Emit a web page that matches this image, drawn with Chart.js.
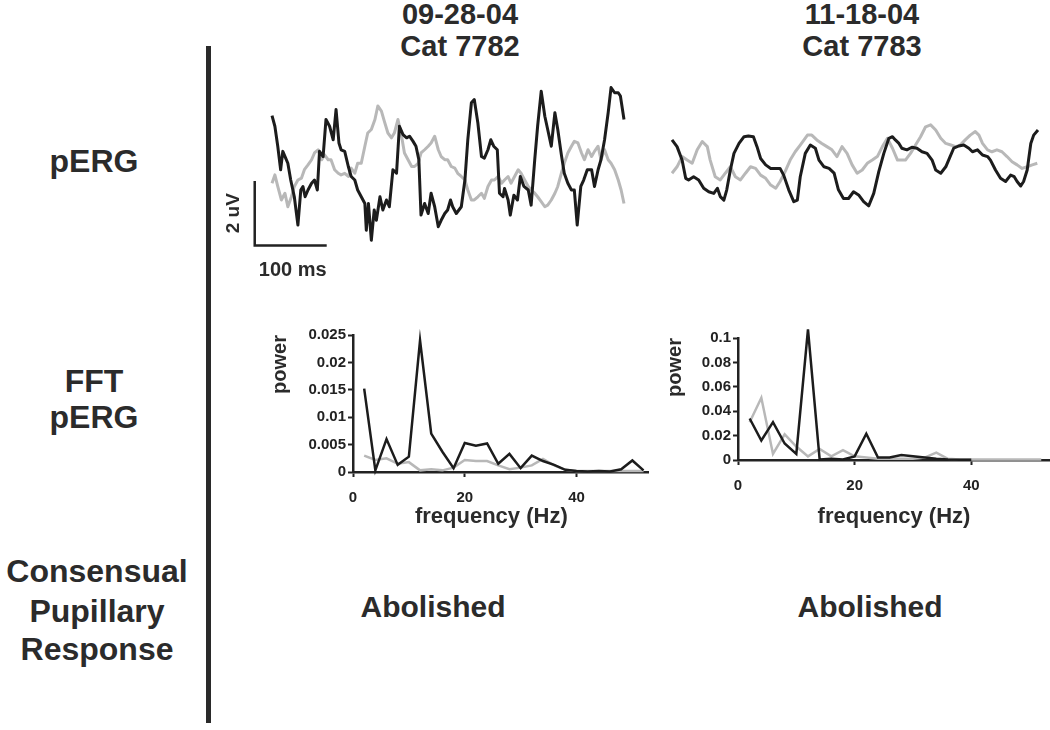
<!DOCTYPE html>
<html lang="en">
	<head>
		<meta charset="UTF-8" />
		<script src="https://cdn.jsdelivr.net/npm/chart.js@4.4.0/dist/chart.umd.min.js"></script>
		<style>
			body { margin: 0; background: #fff; width: 1050px; height: 730px; position: relative; overflow: hidden; }
			.txt { position: absolute; font-family: 'Liberation Sans', Arial, sans-serif; font-weight: bold; color: #2b2b2b; line-height: 1; white-space: nowrap; text-align: center; width: 300px; }
			canvas { position: absolute; }
			#divider { position: absolute; left: 206px; top: 46px; width: 5px; height: 677px; background: #2a2a2a; }
		</style>
	</head>

	<body>
		<div class="txt" style="font-size:29px; left:310px; top:0px;">09-28-04</div>
		<div class="txt" style="font-size:29px; left:310px; top:32px;">Cat 7782</div>
		<div class="txt" style="font-size:29px; left:712px; top:0px;">11-18-04</div>
		<div class="txt" style="font-size:29px; left:712px; top:32px;">Cat 7783</div>

		<div class="txt" style="font-size:32px; left:-56px; top:145px;">pERG</div>
		<div class="txt" style="font-size:32px; left:-56px; top:365px;">FFT</div>
		<div class="txt" style="font-size:32px; left:-56px; top:401px;">pERG</div>
		<div class="txt" style="font-size:32px; left:-53px; top:555px;">Consensual</div>
		<div class="txt" style="font-size:32px; left:-53px; top:595px;">Pupillary</div>
		<div class="txt" style="font-size:32px; left:-53px; top:633px;">Response</div>

		<div class="txt" style="font-size:30px; left:283px; top:592px;">Abolished</div>
		<div class="txt" style="font-size:30px; left:720px; top:592px;">Abolished</div>

		<div id="divider"></div>

		<canvas id="pergLeft" width="408" height="203" style="left:220px; top:82px;"></canvas>
		<canvas id="pergRight" width="374" height="104" style="left:668px; top:110px;"></canvas>
		<canvas id="fftLeft" width="386" height="206" style="left:268px; top:324px;"></canvas>
		<canvas id="fftRight" width="387" height="203" style="left:663px; top:327px;"></canvas>

		<script>
			// pERG traces, time in ms, amplitude in uV (offset baseline)
			const leftBlackTime = [0,4,8,12,15,19,22,26,31,36,40,43,46,50,55,59,63,66,71,75,80,85,89,93,96,101,106,110,115,119,124,129,131,134,138,142,145,150,154,159,163,168,173,177,182,187,191,196,200,204,207,212,217,221,226,231,235,240,244,248,251,256,263,268,272,277,281,286,291,295,300,304,308,313,316,321,323,328,331,336,341,345,350,356,360,365,369,374,379,383,388,393,397,402,406,411,416,420,424,429,433,438,444,448,453,457,462,467,471,476,481,484,489];
			const leftBlack = [4.08,3.75,3.13,2.40,2.97,2.76,2.60,2.08,1.56,0.68,1.77,1.88,1.56,1.77,1.98,2.08,1.77,2.97,2.81,3.96,3.75,3.33,4.27,3.23,3.02,2.97,2.50,2.19,2.08,1.77,1.56,1.35,0.52,1.35,0.21,1.15,0.83,1.56,1.15,1.46,1.25,2.40,2.29,3.75,3.49,3.39,3.44,3.28,3.13,2.71,0.99,1.35,1.04,1.67,1.25,0.63,0.83,1.04,1.15,1.46,1.25,1.04,1.25,2.08,3.33,4.48,4.58,3.85,2.81,2.76,3.02,3.33,3.13,3.02,1.67,1.56,1.82,1.46,0.99,1.61,1.46,2.19,1.88,1.77,1.30,2.71,3.75,4.84,4.06,3.65,3.13,4.17,3.65,2.86,2.29,1.98,1.77,1.77,0.68,1.88,2.08,2.40,2.40,1.88,2.40,2.71,3.33,4.17,4.95,4.79,4.79,4.69,3.96];
			const leftGrayTime = [0,4,8,13,18,22,27,31,36,41,45,50,55,59,64,69,73,78,82,87,92,96,101,106,110,115,119,124,129,133,138,143,147,152,156,161,166,170,175,180,184,189,194,198,203,207,212,217,221,226,231,235,240,244,249,254,258,263,268,272,277,281,286,291,295,300,305,309,314,319,323,328,332,337,342,346,351,356,360,365,369,374,379,383,388,393,397,402,406,411,416,420,425,430,434,439,444,448,453,457,462,467,471,476,481,485,489];
			const leftGray = [1.98,2.24,1.88,1.46,1.67,1.25,1.56,1.88,2.08,2.14,2.40,2.55,2.71,2.92,3.02,2.71,2.86,2.71,2.71,2.40,2.29,2.24,2.29,2.19,2.45,2.29,2.60,2.60,3.13,3.54,3.65,3.96,4.38,4.22,3.91,3.54,3.39,3.54,3.96,3.44,2.92,2.71,2.50,2.50,2.60,2.92,3.02,3.13,3.23,3.44,3.02,2.81,2.71,2.71,2.50,2.45,2.29,2.19,2.08,1.77,1.46,1.46,1.56,1.67,1.51,1.88,2.08,2.08,2.19,1.98,2.08,2.19,1.98,2.19,2.40,2.29,2.08,1.88,1.77,1.67,1.56,1.41,1.25,1.30,1.46,1.67,1.88,2.29,2.60,2.92,3.13,3.28,3.23,2.92,2.71,3.02,2.81,2.97,3.13,2.71,3.02,2.71,2.60,2.40,2.08,1.77,1.35];

			const rightBlackTime = [0,7,14,19,23,30,37,44,51,58,63,67,72,76,81,86,93,100,106,113,118,123,130,137,144,150,155,162,169,174,178,185,192,199,204,211,218,225,231,238,245,252,259,266,273,280,287,294,301,306,310,315,319,326,333,340,347,354,361,366,373,380,386,391,398,405,412,417,424,431,438,442,449,456,463,470,475,479,484,488,493,498,502,508];
			const rightBlack = [2.19,1.98,1.56,0.99,0.94,1.04,0.94,0.68,0.57,0.52,0.68,0.42,0.31,0.63,1.25,1.77,2.08,2.29,2.31,2.29,1.98,1.61,1.41,1.30,1.30,1.30,1.09,0.63,0.26,0.31,1.04,1.77,2.03,1.93,1.56,1.35,1.30,1.15,0.63,0.36,0.36,0.57,0.47,0.26,0.13,0.52,1.20,1.77,2.24,2.29,2.19,2.08,1.93,1.88,1.96,1.93,1.82,1.77,1.56,1.25,1.15,1.35,1.67,1.93,2.00,2.03,1.93,1.82,1.88,1.72,1.67,1.56,1.25,0.99,0.89,1.09,1.04,0.89,0.75,0.89,1.25,2.08,2.34,2.50];
			const rightGrayTime = [0,7,14,21,28,35,42,49,53,60,67,74,81,88,95,102,109,116,123,130,137,144,150,157,164,171,178,188,194,201,208,215,222,229,236,243,250,257,264,271,278,285,292,299,306,313,317,324,331,338,345,352,359,366,373,380,387,394,400,407,414,421,426,431,438,444,451,458,465,472,479,486,493,500,507];
			const rightGray = [1.15,1.35,1.67,1.56,1.46,1.88,2.14,1.98,1.56,1.04,0.94,1.15,1.35,1.04,0.94,1.15,1.35,1.30,1.09,0.99,0.78,0.68,0.89,1.20,1.56,1.82,2.03,2.34,2.34,2.19,2.08,1.98,1.88,1.67,1.98,1.77,1.41,1.15,1.25,1.46,1.56,1.67,1.98,2.24,1.93,1.56,1.56,1.56,1.77,2.03,2.29,2.60,2.66,2.50,2.24,2.08,2.03,1.98,2.03,2.19,2.34,2.45,2.34,2.08,1.88,1.82,1.88,1.82,1.67,1.51,1.41,1.30,1.35,1.41,1.46];

			// FFT of pERG, frequency in Hz
			const fftFreq = [2,4,6,8,10,12,14,16,18,20,22,24,26,28,30,32,34,36,38,40,42,44,46,48,50,52];
			const fftLeftBlack = [0.0152,0.0003,0.006,0.0013,0.0028,0.024,0.007,0.0037,0.0007,0.0053,0.0048,0.0052,0.0015,0.0033,0.0007,0.003,0.002,0.0013,0.0004,0.0002,0.0001,0.0002,0.0001,0.0005,0.0021,0.0003];
			const fftLeftGray = [0.003,0.0022,0.0025,0.0015,0.0018,0.0003,0.0005,0.0003,0.0008,0.0022,0.002,0.002,0.0012,0.0005,0.0008,0.0012,0.0024,0.0012,0.0004,0.0002,0.0002,0.0002,0.0002,0.0002,0.0002,0.0002];
			const fftRightBlack = [0.034,0.016,0.031,0.0135,0.005,0.107,0.0005,0.001,0.0005,0.003,0.0215,0.002,0.002,0.004,0.003,0.002,0.001,0.0005,0.0003,0.0003];
			const fftRightGray = [0.031,0.051,0.005,0.021,0.011,0.003,0.009,0.003,0.008,0.003,0.002,0.001,0.001,0.001,0.001,0.002,0.006,0.001,0.0005,0.0005,0.0005,0.0005,0.0005,0.0005,0.0005,0.0005];

			const scaleBarMs = 100;
			const scaleBarUv = 2;

			const BLACK = '#1c1c1c';
			const GRAY = '#b8b8b8';
			const FONT = "'Liberation Sans', Arial, sans-serif";

			function pts(xs, ys) {
				return ys.map((v, i) => ({ x: xs[i], y: v }));
			}

			function traceChart(id, black, gray, xMax, yMax, padding, plugins) {
				return new Chart(document.getElementById(id), {
					type: 'line',
					data: {
						datasets: [
							{ data: black, borderColor: BLACK, borderWidth: 3 },
							{ data: gray, borderColor: GRAY, borderWidth: 3 },
						],
					},
					options: {
						responsive: false,
						animation: false,
						devicePixelRatio: 1,
						layout: { padding },
						elements: { point: { radius: 0 }, line: { tension: 0, borderJoinStyle: 'round' } },
						datasets: { line: { clip: false } },
						plugins: { legend: { display: false }, tooltip: { enabled: false } },
						scales: {
							x: { type: 'linear', min: 0, max: xMax, display: false },
							y: { min: 0, max: yMax, display: false },
						},
					},
					plugins: plugins || [],
				});
			}

			// 2 uV / 100 ms scale bar drawn from the left trace's own scales
			const scaleBar = {
				id: 'scaleBar',
				afterDraw(chart) {
					const { ctx } = chart;
					const x = chart.scales.x, y = chart.scales.y;
					const x0 = x.getPixelForValue(-24), x1 = x.getPixelForValue(-24 + scaleBarMs);
					const yb = y.getPixelForValue(0.05), yt = y.getPixelForValue(0.05 + scaleBarUv);
					ctx.save();
					ctx.strokeStyle = '#222';
					ctx.lineWidth = 2.5;
					ctx.beginPath();
					ctx.moveTo(x0, yt);
					ctx.lineTo(x0, yb);
					ctx.lineTo(x1, yb);
					ctx.stroke();
					ctx.fillStyle = '#2b2b2b';
					ctx.font = 'bold 20px ' + FONT;
					ctx.textAlign = 'center';
					ctx.textBaseline = 'middle';
					ctx.fillText(scaleBarMs + ' ms', (x0 + x1) / 2 + 2, yb + 25);
					ctx.translate(x0 - 21, (yb + yt) / 2);
					ctx.rotate(-Math.PI / 2);
					ctx.font = 'bold 19px ' + FONT;
					ctx.fillText(scaleBarUv + ' uV', 0, 0);
					ctx.restore();
				},
			};

			traceChart('pergLeft', pts(leftBlackTime, leftBlack), pts(leftGrayTime, leftGray), 489, 5,
				{ left: 52, right: 4, top: 4, bottom: 38 }, [scaleBar]);
			traceChart('pergRight', pts(rightBlackTime, rightBlack), pts(rightGrayTime, rightGray), 508, 3,
				{ left: 4, right: 4, top: 4, bottom: 4 });

			function fftChart(id, black, gray, xMax, yMax, yStep, yWidth, xHeight, padding, xTitle) {
				const axisColor = '#222';
				const tickFont = { family: FONT, size: 15, weight: 'bold' };
				return new Chart(document.getElementById(id), {
					type: 'line',
					data: {
						datasets: [
							{ data: pts(fftFreq, black), borderColor: BLACK, borderWidth: 2.5 },
							{ data: pts(fftFreq, gray), borderColor: GRAY, borderWidth: 2.5 },
						],
					},
					options: {
						responsive: false,
						animation: false,
						devicePixelRatio: 1,
						layout: { padding },
						elements: { point: { radius: 0 }, line: { tension: 0 } },
						datasets: { line: { clip: false } },
						plugins: { legend: { display: false }, tooltip: { enabled: false } },
						scales: {
							x: {
								type: 'linear',
								min: 0,
								max: xMax,
								afterFit: (s) => { s.height = xHeight; },
								ticks: { stepSize: 20, includeBounds: false, font: tickFont, color: '#222', padding: 12, maxRotation: 0 },
								grid: { drawOnChartArea: false, drawTicks: true, tickLength: 5, tickColor: axisColor, tickWidth: 2 },
								border: { color: axisColor, width: 2.5 },
								title: { display: true, text: xTitle, font: { family: FONT, size: 22, weight: 'bold' }, color: '#2b2b2b', padding: 0 },
							},
							y: {
								min: 0,
								max: yMax,
								afterFit: (s) => { s.width = yWidth; },
								ticks: { stepSize: yStep, includeBounds: false, font: tickFont, color: '#222', padding: 2,
									callback: (v) => String(+v.toFixed(4)) },
								grid: { drawOnChartArea: false, drawTicks: true, tickLength: 5, tickColor: axisColor, tickWidth: 2 },
								border: { color: axisColor, width: 2.5 },
								title: { display: true, text: 'power', align: 'end', font: { family: FONT, size: 20, weight: 'bold' }, color: '#2b2b2b', padding: 0 },
							},
						},
					},
				});
			}

			fftChart('fftLeft', fftLeftBlack, fftLeftGray, 52.8, 0.025, 0.005, 85, 58, { top: 10, right: 6 }, 'frequency (Hz)   ');
			fftChart('fftRight', fftRightBlack, fftRightGray, 53.5, 0.1, 0.02, 75, 70, { top: 10, right: 0 }, 'frequency (Hz)');
		</script>
	</body>
</html>
